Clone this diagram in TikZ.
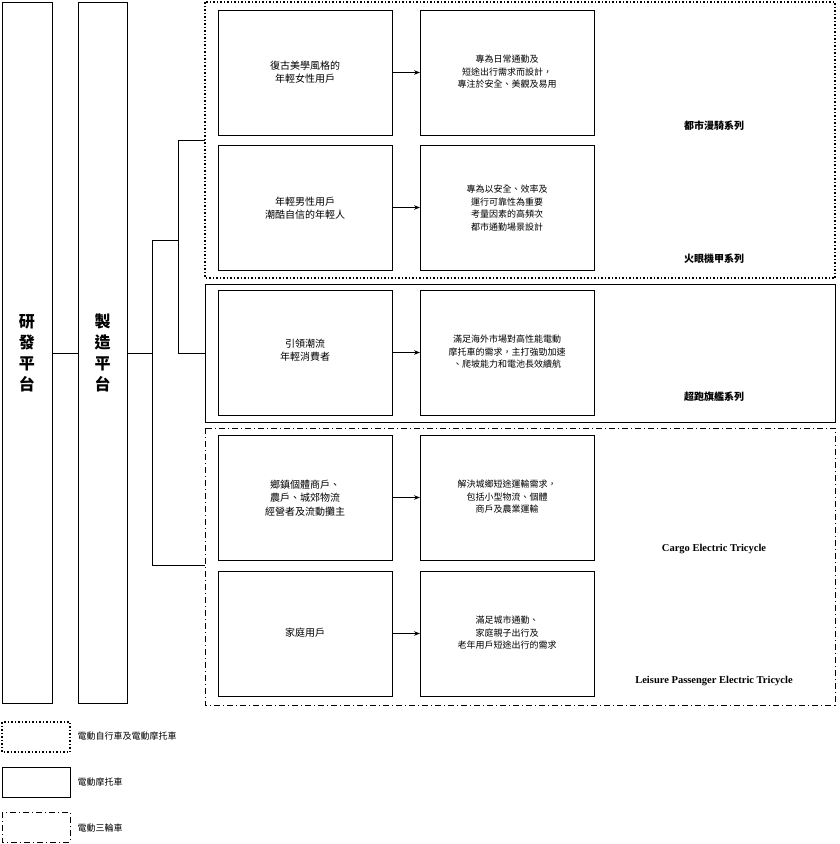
\documentclass[tikz,border=0pt]{standalone}
\usepackage{fontspec}
\setmainfont{Liberation Serif}
\newfontfamily\cjk{Noto Sans CJK TC}
\usetikzlibrary{arrows.meta}
\begin{document}
\begin{tikzpicture}[x=1pt,y=-1pt,
  bx/.style={draw,line width=0.8pt},
  lt/.style={font=\cjk\fontsize{10}{13.5}\selectfont,align=center},
  rt/.style={font=\cjk\fontsize{9}{12.5}\selectfont,align=center},
  pl/.style={font=\cjk\bfseries\fontsize{10}{11}\selectfont},
  el/.style={font=\bfseries\fontsize{10.5}{11}\selectfont},
  dotb/.style={draw,line width=1.5pt,dotted},
  ddb/.style={draw,line width=0.7pt,dash pattern=on 6pt off 3pt on 1pt off 3pt},
  ar/.style={-{Stealth[length=6pt]},line width=0.8pt},
  ln/.style={line width=0.6pt}]
\useasboundingbox (0,0) rectangle (839,844);
\draw[bx] (2,2) rectangle (52,703);
\node[font=\cjk\bfseries\fontsize{16}{21}\selectfont,align=center] (r) at (27,353) {研\\發\\平\\台};
\draw[bx] (78,2) rectangle (127,703);
\node[font=\cjk\bfseries\fontsize{16}{21}\selectfont,align=center] (m) at (102.5,353) {製\\造\\平\\台};
\coordinate (rR) at (52,353); \coordinate (mL) at (78,353); \coordinate (mR) at (127,353);
\draw[ln] (rR) -- (mL);
\draw[ln] (mR) -- (152,353);
\draw[ln] (152,240) -- (152,565);
\draw[ln] (152,240) -- (178,240);
\draw[ln] (178,140) -- (178,353);
\draw[ln] (178,140) -- (205,140);
\draw[ln] (178,353) -- (205,353);
\draw[ln] (152,565) -- (205,565);
\draw[dotb] (205,2) rectangle (835,278);
\draw[bx] (205,284) rectangle (835,422);
\draw[ddb] (205,428) rectangle (835,705);
\foreach \t/\b/\n in {10/135/1,145/270/2,290/415/3,435/560/4,571/696/5}{
  \draw[bx] (218,\t) rectangle (392,\b);
  \draw[bx] (420,\t) rectangle (594,\b);
  \coordinate (L\n) at (392,{(\t+\b)/2});
  \coordinate (R\n) at (420,{(\t+\b)/2});
  \draw[ar] (L\n) -- (R\n);
}
\node[lt] (a1) at (305,72) {復古美學風格的\\年輕女性用戶};
\node[lt] (a2) at (305,208) {年輕男性用戶\\潮酷自信的年輕人};
\node[lt] (a3) at (305,350) {引領潮流\\年輕消費者};
\node[lt] (a4) at (305,498) {鄉鎮個體商戶、\\農戶、城郊物流\\經營者及流動攤主};
\node[lt] (a5) at (305,633) {家庭用戶};
\node[rt] (b1) at (507,72) {專為日常通勤及\\短途出行需求而設計，\\專注於安全、美觀及易用};
\node[rt] (b2) at (507,208) {專為以安全、效率及\\運行可靠性為重要\\考量因素的高頻次\\都市通勤場景設計};
\node[rt] (b3) at (507,352) {滿足海外市場對高性能電動\\摩托車的需求，主打強勁加速\\、爬坡能力和電池長效續航};
\node[rt] (b4) at (507,497) {解決城鄉短途運輸需求，\\包括小型物流、個體\\商戶及農業運輸};
\node[rt] (b5) at (507,633) {滿足城市通勤、\\家庭親子出行及\\老年用戶短途出行的需求};
\node[pl] (p1) at (714,126) {都市漫騎系列};
\node[pl] (p2) at (714,259) {火眼機甲系列};
\node[pl] (p3) at (714,397) {超跑旗艦系列};
\node[el] (p4) at (714,549) {Cargo Electric Tricycle};
\node[el] (p5) at (714,681) {Leisure Passenger Electric Tricycle};
\draw[dotb] (2,722) rectangle (70,752);
\draw[bx] (2,767) rectangle (70,797);
\draw[ddb] (2,812) rectangle (70,842);
\node[rt,anchor=west] (g1) at (74,736) {電動自行車及電動摩托車};
\node[rt,anchor=west] (g2) at (74,782) {電動摩托車};
\node[rt,anchor=west] (g3) at (74,828) {電動三輪車};
\end{tikzpicture}
\end{document}
